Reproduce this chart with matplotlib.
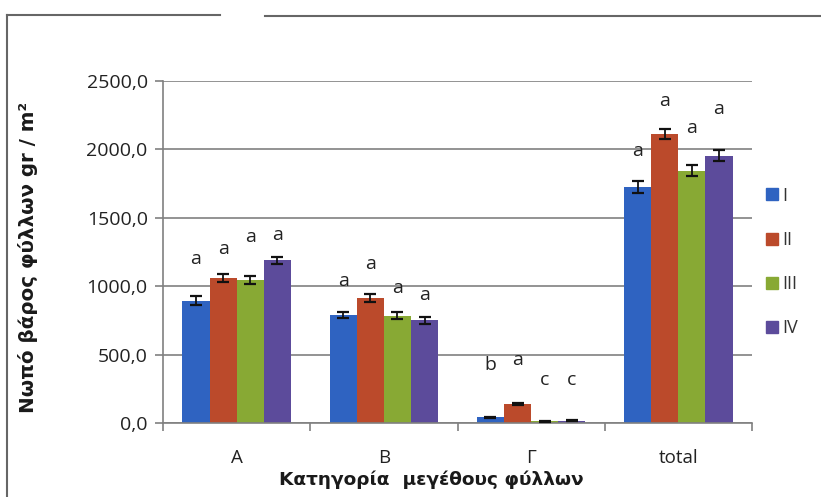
import numpy as np
import matplotlib.pyplot as plt
from matplotlib.lines import Line2D

plt.rcParams['font.family'] = ['Open Sans', 'DejaVu Sans']

categories = ['A', 'B', 'Γ', 'total']
series = ['I', 'II', 'III', 'IV']
colors = ['#2f63c1', '#bb4a2b', '#88a934', '#5c4b9b']

# fresh leaf weight (gr/m²) per size class, one list per series
values = [
    [895, 790, 42, 1725],
    [1058, 912, 140, 2112],
    [1045, 785, 12, 1845],
    [1188, 750, 18, 1955],
]
errors = [
    [30, 25, 4, 42],
    [28, 28, 6, 38],
    [28, 25, 3, 40],
    [25, 25, 3, 38],
]
# significance letters and the height they sit at
letters = [
    ['a', 'a', 'b', 'a'],
    ['a', 'a', 'a', 'a'],
    ['a', 'a', 'c', 'a'],
    ['a', 'a', 'c', 'a'],
]
letter_y = [
    [1200, 1040, 425, 1985],
    [1272, 1165, 460, 2355],
    [1360, 990, 315, 2158],
    [1375, 938, 315, 2295],
]

fig = plt.figure(figsize=(8.21, 4.97), dpi=100)
ax = fig.add_axes([163 / 821, 1 - 423 / 497, (752 - 163) / 821, (423 - 81) / 497])

x = np.arange(len(categories))
w = 0.184
for i in range(len(series)):
    pos = x + (i - 1.5) * w
    ax.bar(pos, values[i], w, color=colors[i], label=series[i], zorder=2)
    ax.errorbar(pos, values[i], yerr=errors[i], fmt='none', ecolor='#111111',
                elinewidth=1.3, capsize=4.5, capthick=1.6, zorder=3)
    for xp, s, yl in zip(pos, letters[i], letter_y[i]):
        ax.text(xp, yl, s, ha='center', va='center', fontsize=14, color='#222222')

ax.set_xlim(-0.5, 3.5)
ax.set_ylim(0, 2500)
ax.set_yticks(np.arange(0, 2501, 500))
ax.set_yticklabels([f'{v:.1f}'.replace('.', ',') for v in np.arange(0, 2501, 500)])
ax.yaxis.grid(True, color='#808080', lw=1.2, zorder=0)
ax.set_axisbelow(True)

ax.set_xticks(x)
ax.set_xticklabels(categories)
ax.set_xticks(np.arange(-0.5, 3.6, 1), minor=True)
ax.tick_params(axis='x', which='major', length=0, pad=19, labelsize=13.5, colors='#222222')
ax.tick_params(axis='x', which='minor', length=6, width=1.2, color='#808080', direction='out')
ax.tick_params(axis='y', length=6, width=1.2, color='#808080', labelsize=14,
               labelcolor='#222222', pad=5)

for side in ['top', 'right']:
    ax.spines[side].set_visible(False)
for side in ['left', 'bottom']:
    ax.spines[side].set_color('#808080')
    ax.spines[side].set_linewidth(1.2)

label_font = dict(family='DejaVu Sans', fontweight='bold', color='#1a1a1a')
ax.set_xlabel('Κατηγορία  μεγέθους φύλλων', fontsize=13.3, **label_font)
ax.xaxis.set_label_coords(0.455, -0.14)
ax.set_ylabel('Νωπό βάρος φύλλων gr / m²', fontsize=14.3, **label_font)
ax.yaxis.set_label_coords(-0.213, 0.485)

handles = [Line2D([], [], marker='s', ls='none', markersize=8, color=c) for c in colors]
fig.legend(handles, series, loc='center left', bbox_to_anchor=(747 / 821, 1 - 262 / 497),
           frameon=False, fontsize=13, handletextpad=0.05, labelspacing=1.45,
           handlelength=1.0, labelcolor='#333333')

# outer chart frame
fig.add_artist(Line2D([7 / 821, 7 / 821], [0, 1 - 15 / 497], transform=fig.transFigure,
                      color='#666666', lw=1.5))
fig.add_artist(Line2D([7 / 821, 220 / 821], [1 - 15 / 497] * 2, transform=fig.transFigure,
                      color='#666666', lw=1.5))
fig.add_artist(Line2D([265 / 821, 1], [1 - 16 / 497] * 2, transform=fig.transFigure,
                      color='#666666', lw=1.5))

fig.savefig('out.png', dpi=100)
